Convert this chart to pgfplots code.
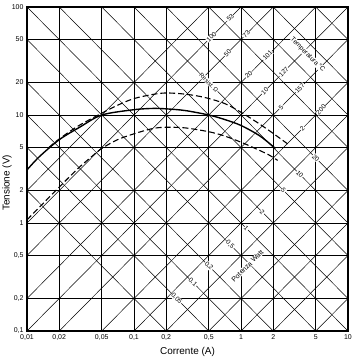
\documentclass[border=0pt]{standalone}
\usepackage{pgfplots}
\pgfplotsset{compat=1.18}
\usepackage{fontspec}
\setmainfont{Liberation Sans}
\tikzset{
 diag/.style={black, line width=0.5pt},
 lab/.style={font=\fontsize{6.5}{7}\selectfont, fill=white, inner sep=0.5pt},
}
\begin{document}
\begin{tikzpicture}
\begin{axis}[
 width=321bp, height=324bp, scale only axis,
 xmode=log, ymode=log, xmin=0.01, xmax=10, ymin=0.1, ymax=100,
 xtick={0.01,0.02,0.05,0.1,0.2,0.5,1,2,5,10},
 xticklabels={{0,01},{0,02},{0,05},{0,1},{0,2},{0,5},1,2,5,10},
 ytick={0.1,0.2,0.5,1,2,5,10,20,50,100},
 yticklabels={{0,1},{0,2},{0,5},1,2,5,10,20,50,100},
 minor xtick={}, minor ytick={},
 grid=major, major grid style={black, line width=0.7pt},
 axis line style={line width=1.1pt},
 tick style={draw=none},
 ticklabel style={font=\fontsize{7}{8}\selectfont},
 xlabel={Corrente (A)}, ylabel={Tensione (V)},
 label style={font=\fontsize{10}{12}\selectfont},
 xlabel style={at={(axis description cs:0.5,-0.065)}, anchor=center},
 ylabel style={at={(axis description cs:-0.062,0.457)}, anchor=center},
]
% constant power lines (slope -1)
\addplot[diag, no marks] coordinates {(0.01,2) (10,0.002)};
\addplot[diag, no marks] coordinates {(0.01,5) (10,0.005)};
\addplot[diag, no marks] coordinates {(0.01,10) (10,0.01)};
\addplot[diag, no marks] coordinates {(0.01,20) (10,0.02)};
\addplot[diag, no marks] coordinates {(0.01,50) (10,0.05)};
\addplot[diag, no marks] coordinates {(0.01,100) (10,0.1)};
\addplot[diag, no marks] coordinates {(0.01,200) (10,0.2)};
\addplot[diag, no marks] coordinates {(0.01,500) (10,0.5)};
\addplot[diag, no marks] coordinates {(0.01,1000) (10,1)};
\addplot[diag, no marks] coordinates {(0.01,2000) (10,2)};
\addplot[diag, no marks] coordinates {(0.01,5000) (10,5)};
\addplot[diag, no marks] coordinates {(0.01,10000) (10,10)};
\addplot[diag, no marks] coordinates {(0.01,20000) (10,20)};
\addplot[diag, no marks] coordinates {(0.01,50000) (10,50)};
% constant resistance lines (slope +1)
\addplot[diag, no marks] coordinates {(0.01,0.0002) (10,0.2)};
\addplot[diag, no marks] coordinates {(0.01,0.0005) (10,0.5)};
\addplot[diag, no marks] coordinates {(0.01,0.001) (10,1)};
\addplot[diag, no marks] coordinates {(0.01,0.002) (10,2)};
\addplot[diag, no marks] coordinates {(0.01,0.005) (10,5)};
\addplot[diag, no marks] coordinates {(0.01,0.01) (10,10)};
\addplot[diag, no marks] coordinates {(0.01,0.02) (10,20)};
\addplot[diag, no marks] coordinates {(0.01,0.05) (10,50)};
\addplot[diag, no marks] coordinates {(0.01,0.1) (10,100)};
\addplot[diag, no marks] coordinates {(0.01,0.2) (10,200)};
\addplot[diag, no marks] coordinates {(0.01,0.5) (10,500)};
\addplot[diag, no marks] coordinates {(0.01,1) (10,1000)};
\addplot[diag, no marks] coordinates {(0.01,2) (10,2000)};
% characteristic curves
\addplot[black, line width=1.4pt, smooth, no marks] coordinates {
 (0.01,3.1) (0.013,4.1) (0.02,5.9) (0.031,7.7) (0.05,10) (0.1,11.2) (0.15,11.5)
 (0.2,11.4) (0.3,11.0) (0.5,10.0) (0.7,9.1) (1,8.0) (1.5,6.4) (2.1,4.9)};
\addplot[black, line width=1.1pt, smooth, no marks, dash pattern=on 6pt off 3pt] coordinates {
 (0.016,5.0) (0.02,6.0) (0.03,7.9) (0.05,10.4) (0.07,12.3) (0.1,14.2) (0.15,15.5)
 (0.2,16) (0.3,15.6) (0.45,14.6) (0.7,12.8) (1,10.6) (1.4,8.6) (1.9,7.0) (2.8,5.3)};
\addplot[black, line width=1.1pt, smooth, no marks, dash pattern=on 6pt off 3pt] coordinates {
 (0.01,1.07) (0.02,2.15) (0.03,3.2) (0.04,4.1) (0.05,4.9) (0.07,5.9) (0.1,6.7)
 (0.15,7.5) (0.2,7.7) (0.3,7.6) (0.5,7.0) (0.7,6.4) (1,5.6) (1.3,5.0) (1.8,4.3) (2.2,3.8)};
% resistance labels
\node[lab, rotate=45] at (axis cs:0.529,52.9) {100};
\node[lab, rotate=45] at (axis cs:0.748,37.4) {50};
\node[lab, rotate=45] at (axis cs:1.18,23.7) {20};
\node[lab, rotate=45] at (axis cs:1.67,16.7) {10};
\node[lab, rotate=45] at (axis cs:2.37,11.8) {5};
\node[lab, rotate=45] at (axis cs:3.74,7.5) {2};
\node[lab, rotate=-45, font=\fontsize{6}{7}\selectfont] at (axis cs:0.5,20) {Resist.\,Ω};
% temperature labels
\node[lab, rotate=45] at (axis cs:0.794,79.4) {53};
\node[lab, rotate=45] at (axis cs:1.12,56) {73};
\node[lab, rotate=45] at (axis cs:1.77,35.5) {101};
\node[lab, rotate=45] at (axis cs:2.51,25.1) {127};
\node[lab, rotate=45] at (axis cs:3.55,17.7) {157};
\node[lab, rotate=45] at (axis cs:5.6,11.2) {200};
\node[lab, rotate=-45, font=\fontsize{6.5}{7}\selectfont] at (axis cs:4.2,36) {Temperatura °C};
% power labels
\node[lab, rotate=-45] at (axis cs:0.25,0.2) {0,05};
\node[lab, rotate=-45] at (axis cs:0.354,0.283) {0,1};
\node[lab, rotate=-45] at (axis cs:0.5,0.4) {0,2};
\node[lab, rotate=-45] at (axis cs:0.79,0.63) {0,5};
\node[lab, rotate=-45] at (axis cs:1.12,0.89) {1};
\node[lab, rotate=-45] at (axis cs:1.58,1.26) {2};
\node[lab, rotate=-45] at (axis cs:2.5,2) {5};
\node[lab, rotate=-45] at (axis cs:3.54,2.83) {10};
\node[lab, rotate=-45] at (axis cs:5,4) {20};
\node[lab, rotate=45, font=\fontsize{7}{8}\selectfont] at (axis cs:1.15,0.4) {Potenza Watt};
\end{axis}
\pgfresetboundingbox
\path[use as bounding box] ([shift={(-27bp,-26bp)}]current axis.south west) rectangle ([shift={(9bp,7bp)}]current axis.north east);
\end{tikzpicture}
\end{document}
